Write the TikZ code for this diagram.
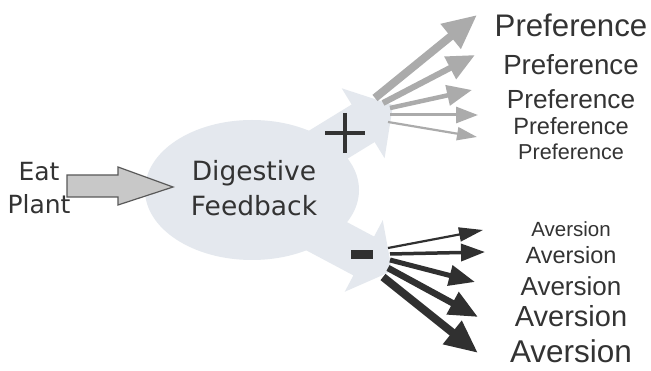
\documentclass[tikz,border=0pt]{standalone}
\usepackage{fontspec}
\setmainfont{Liberation Sans}
\newfontfamily\comicfont{DejaVu Sans}
\usepackage{tikz}
\usetikzlibrary{arrows.meta,shapes.geometric}
\definecolor{blobblue}{HTML}{E4E8EE}
\definecolor{prefgray}{HTML}{ABABAB}
\definecolor{averdark}{HTML}{303030}
\definecolor{inkgray}{HTML}{333333}
\definecolor{eatfill}{HTML}{C8C8C8}
\tikzset{
  fb blob/.style={
    fill=blobblue,
    draw=none,
  },
  fb ellipse/.style={
    ellipse,
    fb blob,
    minimum width=214pt,
    minimum height=140pt,
    inner sep=0pt,
    align=center,
    text=inkgray,
    font=\comicfont\fontsize{26.5}{35}\selectfont,
  },
  fb label/.style={
    align=center,
    text=inkgray,
    font=\comicfont\fontsize{25}{33}\selectfont,
  },
  fb input/.style={
    fill=eatfill,
    draw=black!65,
    line width=1.2pt,
    line join=miter,
  },
  fb word/.style={
    anchor=base,
    inner sep=0pt,
    text=inkgray,
    font=\fontsize{#1}{#1}\selectfont,
  },
  pref arrow/.style n args={3}{
    draw=prefgray,
    line width=#1pt,
    -{Triangle[length=#2pt,width=#3pt]},
  },
  aver arrow/.style n args={3}{
    draw=averdark,
    line width=#1pt,
    -{Triangle[length=#2pt,width=#3pt]},
  },
  fb sign/.style={
    draw=inkgray,
    line width=4pt,
  },
  fb minus/.style={
    rectangle,
    fill=averdark,
    minimum width=22pt,
    minimum height=9pt,
    inner sep=0pt,
  },
}

\begin{document}
\begin{tikzpicture}[x=1pt,y=-1pt]
  \fill[white] (0,0) rectangle (651,371);
  \useasboundingbox (0,0) rectangle (651,371);

  % feedback blob with its two lobes
  \node[fb ellipse] (feedback) at (252,190) {};
  \fill[fb blob,shift={(393,105)},rotate=31.5]
    (0,0) -- (-35,41) -- (-35,22) -- (-130,22) -- (-130,-22) -- (-35,-22) -- (-35,-41) -- cycle;
  \fill[fb blob,shift={(392,271)},rotate=-28]
    (0,0) -- (-32,40.5) -- (-32,22) -- (-130,22) -- (-130,-22) -- (-32,-22) -- (-32,-40.5) -- cycle;

  % input arrow
  \filldraw[fb input] (67,175) -- (118,175) -- (118,167) -- (173,187)
    -- (118,205) -- (118,197) -- (67,197) -- cycle;

  \node[fb label] (eat) at (39,188) {Eat\\Plant};
  \node[align=center,text=inkgray,font=\comicfont\fontsize{26.5}{35}\selectfont]
    (fbtext) at (254,188) {Digestive\\Feedback};

  % signs
  \coordinate (plus) at (345,133);
  \draw[fb sign] ([xshift=-20pt]plus) -- ([xshift=20pt]plus);
  \draw[fb sign] ([yshift=20pt]plus) -- ([yshift=-20pt]plus);
  \node[fb minus] (minus) at (362,255) {};

  % preference fan
  \coordinate (pfrom1) at (375,98);
  \coordinate (pfrom2) at (383,103);
  \coordinate (pfrom3) at (390,108);
  \coordinate (pfrom4) at (390,115);
  \coordinate (pfrom5) at (388,122);
  \coordinate (pto1) at (477,15);
  \coordinate (pto2) at (475,55);
  \coordinate (pto3) at (472,90);
  \coordinate (pto4) at (478,115);
  \coordinate (pto5) at (477,137);
  \draw[pref arrow={8}{34}{30}] (pfrom1) -- (pto1);
  \draw[pref arrow={6}{28}{24}] (pfrom2) -- (pto2);
  \draw[pref arrow={4.5}{25}{20}] (pfrom3) -- (pto3);
  \draw[pref arrow={3}{22}{16}] (pfrom4) -- (pto4);
  \draw[pref arrow={2.2}{20}{13}] (pfrom5) -- (pto5);

  % aversion fan
  \coordinate (afrom1) at (388,248);
  \coordinate (afrom2) at (390,254);
  \coordinate (afrom3) at (390,260);
  \coordinate (afrom4) at (388,268);
  \coordinate (afrom5) at (383,277);
  \coordinate (ato1) at (483,230);
  \coordinate (ato2) at (485,252);
  \coordinate (ato3) at (475,282);
  \coordinate (ato4) at (478,317);
  \coordinate (ato5) at (478,353);
  \draw[aver arrow={2.2}{24}{14}] (afrom1) -- (ato1);
  \draw[aver arrow={3.5}{24}{17}] (afrom2) -- (ato2);
  \draw[aver arrow={5}{26}{20}] (afrom3) -- (ato3);
  \draw[aver arrow={6.5}{29}{24}] (afrom4) -- (ato4);
  \draw[aver arrow={8}{33}{28}] (afrom5) -- (ato5);

  % outcomes
  \node[fb word=31.2] (pref1) at (571,37) {Preference};
  \node[fb word=27.7] (pref2) at (571,75) {Preference};
  \node[fb word=26.2] (pref3) at (571,109) {Preference};
  \node[fb word=23.6] (pref4) at (571,135) {Preference};
  \node[fb word=21.6] (pref5) at (571,160) {Preference};
  \node[fb word=20.5] (aver1) at (571,237) {Aversion};
  \node[fb word=23.5] (aver2) at (571,264) {Aversion};
  \node[fb word=26] (aver3) at (571,296) {Aversion};
  \node[fb word=29] (aver4) at (571,327) {Aversion};
  \node[fb word=31.5] (aver5) at (571,363) {Aversion};
\end{tikzpicture}
\end{document}
